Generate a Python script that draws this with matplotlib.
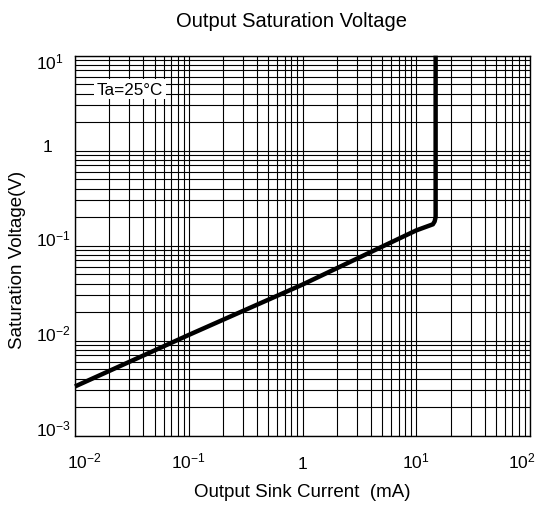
import matplotlib
matplotlib.use("Agg")
import matplotlib.pyplot as plt
from matplotlib.ticker import FixedLocator, LogLocator, NullFormatter
from matplotlib.transforms import ScaledTranslation

plt.rcParams['font.family'] = ['Liberation Sans', 'DejaVu Sans']
plt.rcParams['mathtext.fontset'] = 'custom'
plt.rcParams['mathtext.rm'] = 'Liberation Sans'
plt.rcParams['mathtext.it'] = 'Liberation Sans'

title = "Output Saturation Voltage"
xlabel = "Output Sink Current  (mA)"
ylabel = "Saturation Voltage(V)"
annotation = "Ta=25°C"

current_mA = [0.01, 0.1, 1, 10, 14.0, 14.5, 14.8, 14.8]
voltage_V = [0.0033, 0.0115, 0.039, 0.145, 0.168, 0.18, 0.2, 10.0]

x_ticks = [0.01, 0.1, 1, 10, 100]
x_labels = ["$10^{-2}$", "$10^{-1}$", "1", "$10^{1}$", "$10^{2}$"]
y_ticks = [0.001, 0.01, 0.1, 1, 10]
y_labels = ["$10^{-3}$", "$10^{-2}$", "$10^{-1}$", "1", "$10^{1}$"]

DPI = 100
fig = plt.figure(figsize=(5.4, 5.1), dpi=DPI)
ax = fig.add_axes([0.1389, 0.1437, 0.8426, 0.7451])
ax.set_xscale('log')
ax.set_yscale('log')
ax.set_xlim(x_ticks[0], x_ticks[-1])
ax.set_ylim(y_ticks[0], y_ticks[-1])

ax.xaxis.set_major_locator(FixedLocator(x_ticks))
ax.yaxis.set_major_locator(FixedLocator(y_ticks))
ax.set_xticklabels(x_labels)
ax.set_yticklabels(y_labels)
ax.xaxis.set_minor_locator(LogLocator(base=10, subs=range(2, 10)))
ax.yaxis.set_minor_locator(LogLocator(base=10, subs=range(2, 10)))
ax.xaxis.set_minor_formatter(NullFormatter())
ax.yaxis.set_minor_formatter(NullFormatter())

ax.grid(True, which='both', color='black', linewidth=0.8)
ax.tick_params(which='both', length=0, labelsize=12.5)
ax.tick_params(axis='x', pad=23)
ax.tick_params(axis='y', pad=28)
for s in ax.spines.values():
    s.set_linewidth(1.0)

def px(dx, dy):
    return ScaledTranslation(dx / DPI, dy / DPI, fig.dpi_scale_trans)

# x tick labels: baseline aligned; edge labels kept inside
xl = ax.get_xticklabels()
for i, lab in enumerate(xl):
    lab.set_va('baseline')
    if i == 0:
        lab.set_ha('left')
        lab.set_transform(lab.get_transform() + px(-8, 0))
    elif i == len(xl) - 1:
        lab.set_ha('right')
        lab.set_transform(lab.get_transform() + px(6, 0))
    else:
        lab.set_ha('center')

# y tick labels: base "10" left-aligned, baseline on the grid line
yl = ax.get_yticklabels()
for i, lab in enumerate(yl):
    lab.set_va('baseline')
    lab.set_ha('left')
    if lab.get_text() == "1":
        lab.set_transform(lab.get_transform() + px(7, 0))
    if i == len(yl) - 1:
        lab.set_transform(lab.get_transform() + px(0, -13))

ax.plot(current_mA, voltage_V, color='black', linewidth=3.2,
        solid_capstyle='butt', solid_joinstyle='round', zorder=5, clip_on=False)

ax.text(0.0155, 4.0, annotation, fontsize=12.3, va='baseline', ha='left',
        bbox=dict(facecolor='white', edgecolor='none', pad=2.0), zorder=6)

fig.text(0.54, 1 - 26.7 / 510, title, ha='center', va='baseline', fontsize=14.5)
ax.set_xlabel(xlabel, fontsize=13.5)
ax.xaxis.set_label_coords(0.5, -(497 - 436.7) / 380, transform=ax.transAxes)
ax.xaxis.label.set_va('baseline')
ax.set_ylabel(ylabel, fontsize=13.5, va='center', ha='center')
ax.yaxis.set_label_coords(-(75 - 17.5) / 455, 0.465)

fig.savefig("out.png", dpi=DPI)
